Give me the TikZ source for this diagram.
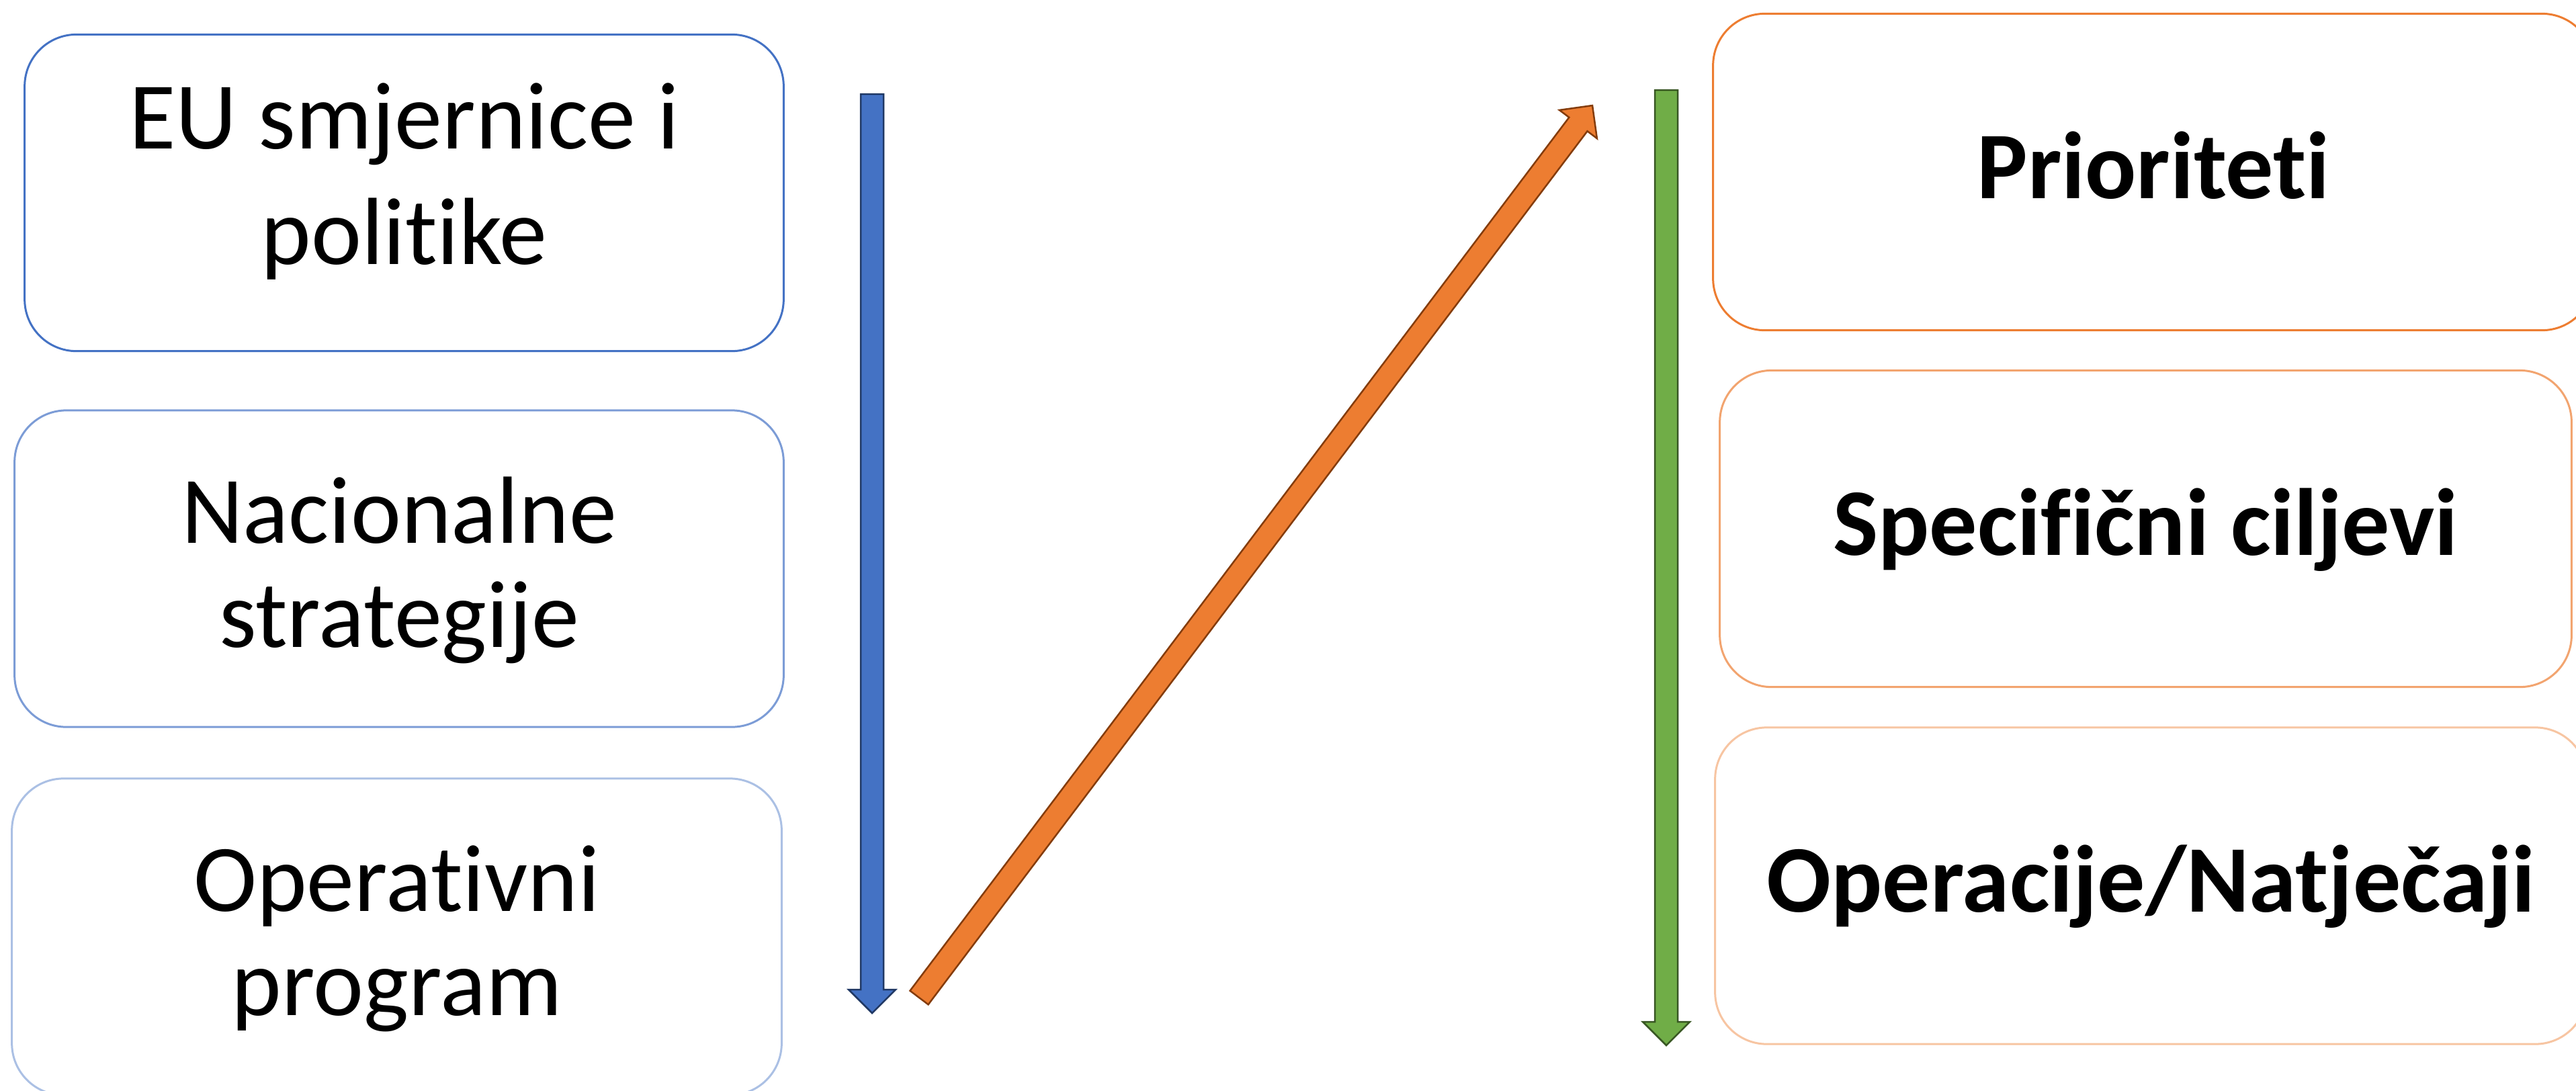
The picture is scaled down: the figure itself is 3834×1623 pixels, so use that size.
\documentclass[tikz,border=0pt]{standalone}
\usepackage{fontspec}
\setmainfont{Carlito}[Ligatures=NoCommon]
\usetikzlibrary{calc}

\definecolor{boxblue}{HTML}{4472C4}
\definecolor{boxorange}{HTML}{ED7D31}
\definecolor{boxgreen}{HTML}{70AD47}
\definecolor{edgeblue}{HTML}{203864}
\definecolor{edgeorange}{HTML}{843C0C}
\definecolor{edgegreen}{HTML}{385723}

\tikzset{
  box/.style={draw,rounded corners=0.77cm,line width=0.03cm,inner sep=0pt,
    minimum height=4.71cm,minimum width=#1},
  ltext/.style={align=center,font=\fontsize{40.4pt}{44.1pt}\selectfont},
  rtext/.style={font=\fontsize{40.4pt}{48pt}\selectfont\bfseries,
    text height=30pt,text depth=7.8pt},
  blockarrow/.style={line width=0.025cm,line join=miter,to path={
    ($(\tikztostart)!0.17cm!90:(\tikztotarget)$)
    -- ($($(\tikztotarget)!0.35cm!(\tikztostart)$)!0.17cm!-90:(\tikztostart)$)
    -- ($($(\tikztotarget)!0.35cm!(\tikztostart)$)!0.35cm!-90:(\tikztostart)$)
    -- (\tikztotarget)
    -- ($($(\tikztotarget)!0.35cm!(\tikztostart)$)!0.35cm!90:(\tikztostart)$)
    -- ($($(\tikztotarget)!0.35cm!(\tikztostart)$)!0.17cm!90:(\tikztostart)$)
    -- ($(\tikztostart)!0.17cm!-90:(\tikztotarget)$) -- cycle}}
}

\begin{document}
\begin{tikzpicture}[x=0.01cm,y=-0.01cm]
\useasboundingbox (0,0) rectangle (3834,1623);

\node[box=11.29cm,draw=boxblue] (eu) at (601.5,287) {};
\node[box=11.44cm,draw=boxblue!70!white] (nat) at (594,846.5) {};
\node[box=11.45cm,draw=boxblue!45!white] (op) at (590.5,1394.5) {};
\node[ltext,font=\fontsize{40.4pt}{48.9pt}\selectfont] (euText) at ($(eu)+(0,-17)$) {EU smjernice i\\politike};
\node[ltext] (natText) at ($(nat)+(0,2)$) {Nacionalne\\strategije};
\node[ltext] (opText) at ($(op)+(0,3)$) {Operativni\\program};

\node[box=13.10cm,draw=boxorange,rtext] (prio) at (3205,256) {Prioriteti};
\node[box=12.67cm,draw=boxorange!70!white,rtext] (cilj) at (3193.5,787) {Specifični ciljevi};
\node[box=12.97cm,draw=boxorange!45!white,rtext] (natj) at (3201.5,1318.5) {Operacije/Natječaji};

\coordinate (blueTop) at (1298,140);
\coordinate (blueTip) at (1298,1508);
\coordinate (orangeTail) at (1368,1485);
\coordinate (orangeTip) at (2370,157);
\coordinate (greenTop) at (2480,134);
\coordinate (greenTip) at (2480,1556);

\draw[blockarrow,fill=boxblue,draw=edgeblue] (blueTop) to (blueTip);
\draw[blockarrow,fill=boxorange,draw=edgeorange] (orangeTail) to (orangeTip);
\draw[blockarrow,fill=boxgreen,draw=edgegreen] (greenTop) to (greenTip);
\end{tikzpicture}
\end{document}
